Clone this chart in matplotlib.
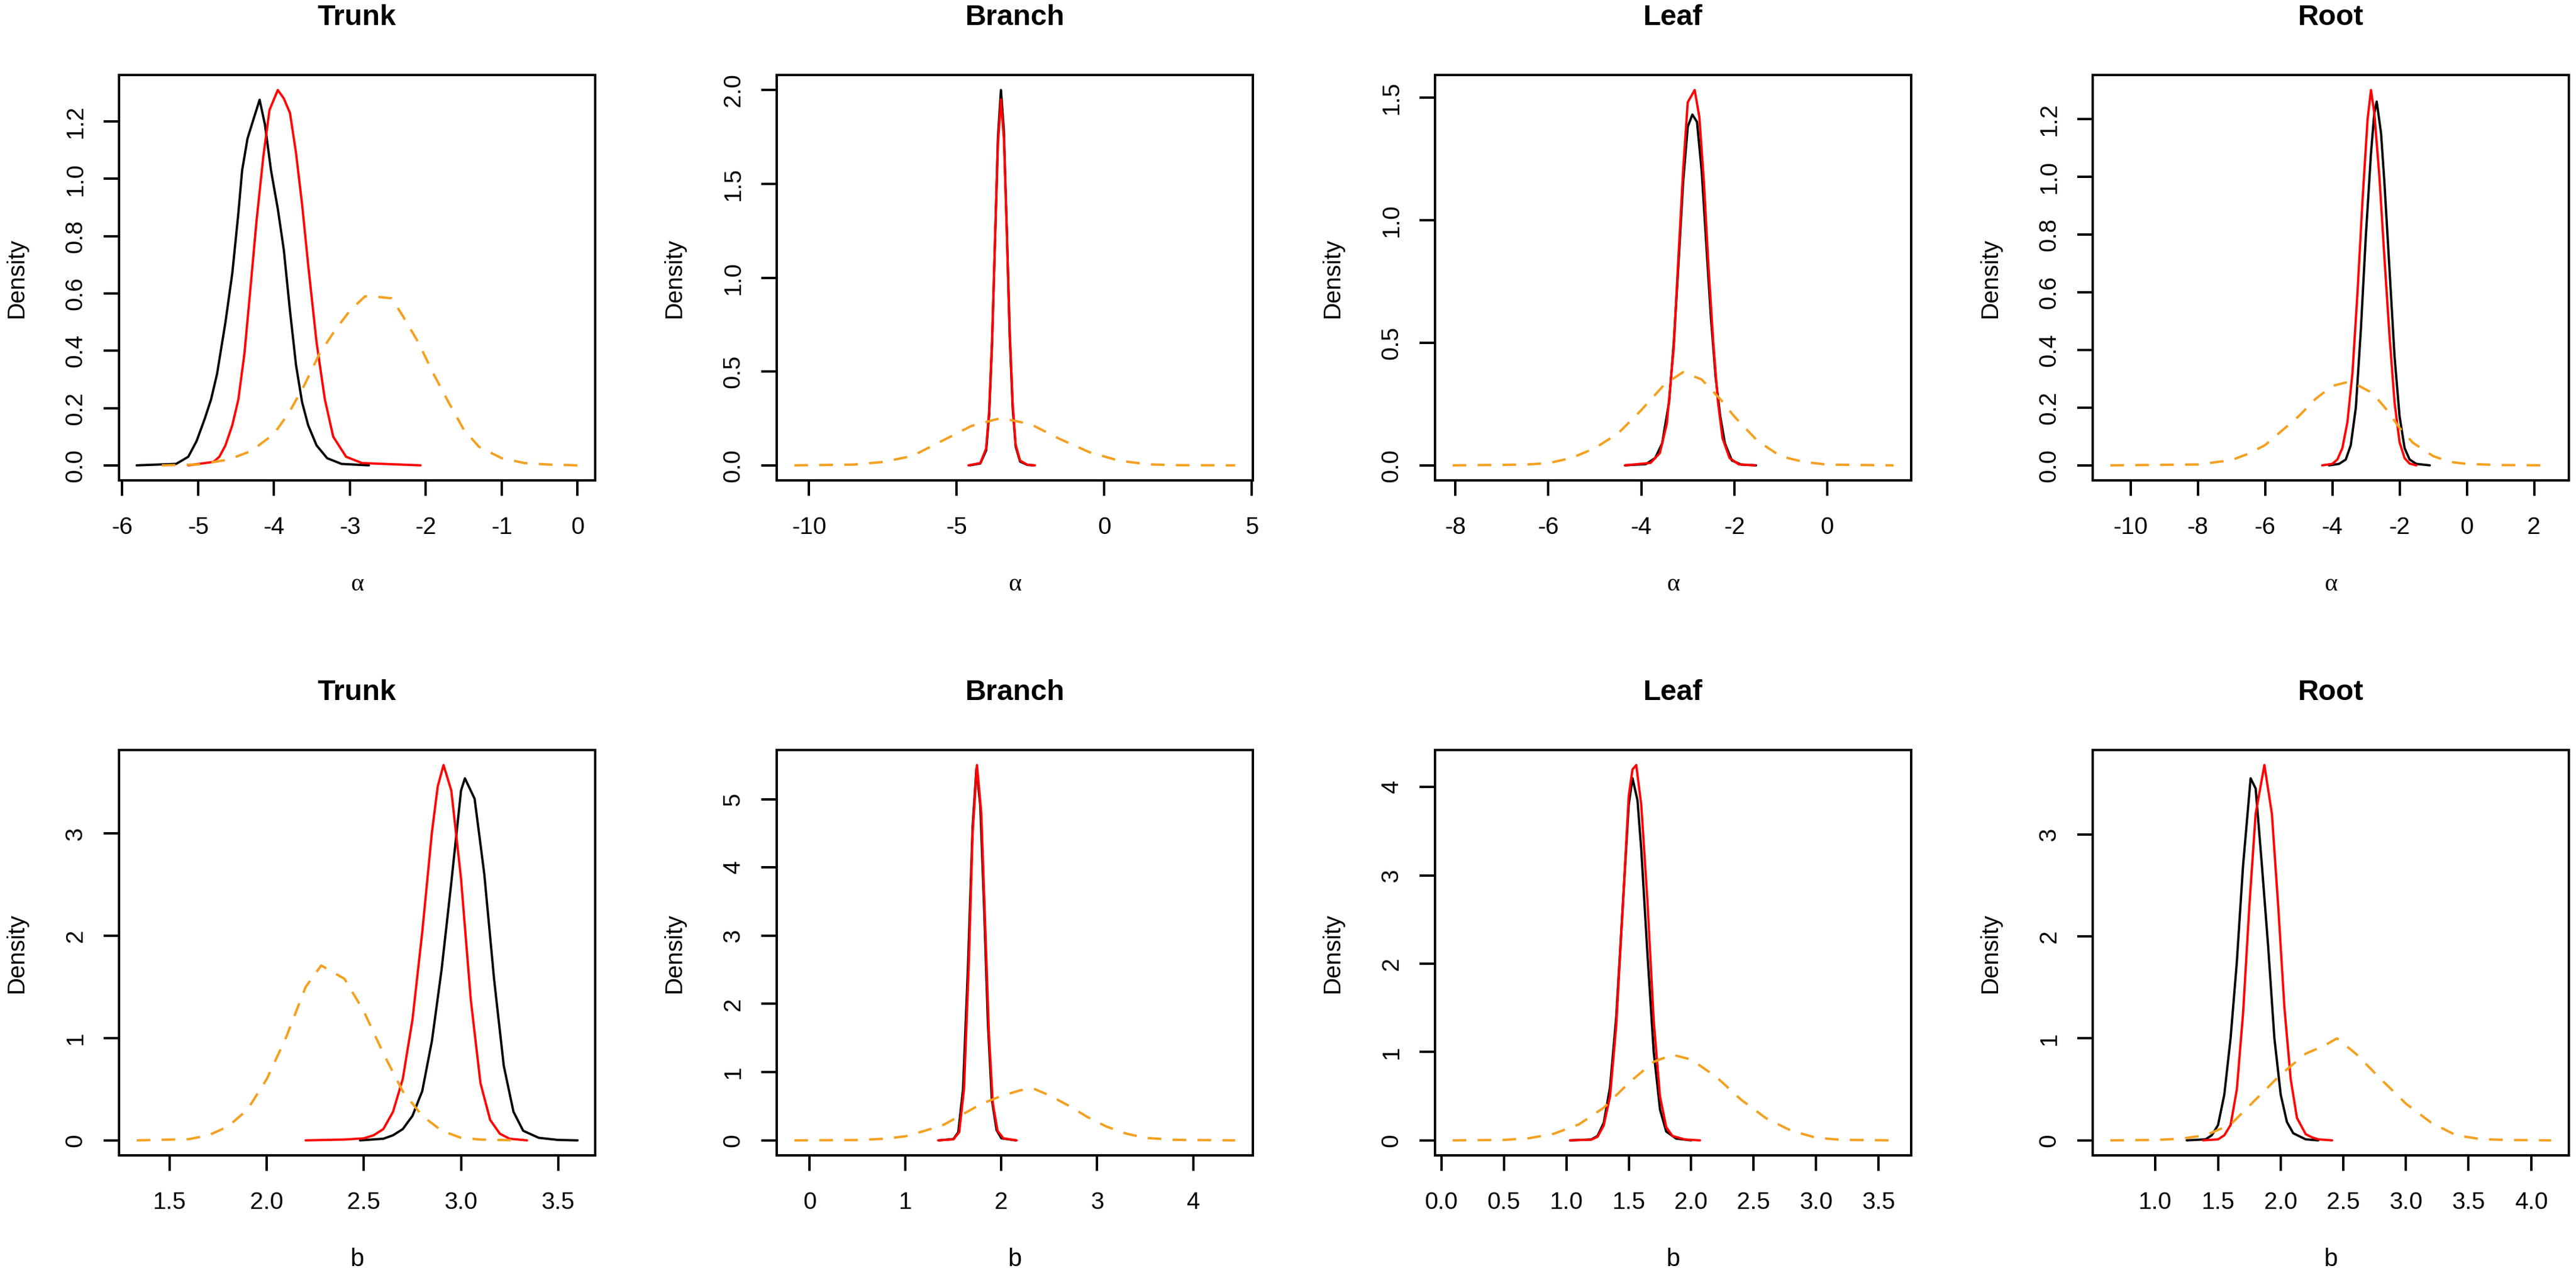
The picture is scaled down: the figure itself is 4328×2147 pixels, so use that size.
import matplotlib
matplotlib.use("Agg")
import matplotlib.pyplot as plt

plt.rcParams['font.family'] = ['Liberation Sans', 'DejaVu Sans']

# ---- data (density curves) ----
# top row: alpha
trunk_a_black_x = [-5.81, -5.29, -5.13, -5.02, -4.91, -4.83, -4.75, -4.64, -4.55, -4.47, -4.42, -4.35, -4.28,
                   -4.19, -4.12, -4.04, -3.95, -3.87, -3.79, -3.71, -3.63, -3.55, -3.44, -3.30, -3.11, -2.75]
trunk_a_black_y = [0.0, 0.005, 0.03, 0.085, 0.165, 0.23, 0.32, 0.50, 0.67, 0.88, 1.03, 1.14, 1.20,
                   1.276, 1.19, 1.03, 0.895, 0.75, 0.54, 0.35, 0.22, 0.14, 0.07, 0.025, 0.005, 0.0]
trunk_a_red_x = [-5.13, -4.80, -4.72, -4.64, -4.55, -4.47, -4.39, -4.31, -4.23, -4.14, -4.06, -3.95, -3.87,
                 -3.79, -3.71, -3.63, -3.55, -3.44, -3.33, -3.22, -3.05, -2.84, -2.07]
trunk_a_red_y = [0.0, 0.012, 0.03, 0.07, 0.14, 0.23, 0.39, 0.62, 0.855, 1.08, 1.24, 1.31, 1.28,
                 1.23, 1.09, 0.91, 0.70, 0.43, 0.23, 0.10, 0.03, 0.008, 0.0]
trunk_a_orange_x = [-5.48, -5.0, -4.6, -4.3, -4.0, -3.8, -3.6, -3.4, -3.2, -3.0, -2.8, -2.6, -2.45, -2.3,
                    -2.1, -1.9, -1.7, -1.5, -1.3, -1.0, -0.7, -0.4, 0.0]
trunk_a_orange_y = [0.0, 0.003, 0.02, 0.05, 0.11, 0.185, 0.28, 0.39, 0.47, 0.54, 0.59, 0.587, 0.583, 0.52,
                    0.43, 0.32, 0.22, 0.125, 0.065, 0.025, 0.008, 0.003, 0.0]

branch_a_black_x = [-4.55, -4.2, -4.0, -3.9, -3.8, -3.7, -3.6, -3.5, -3.4, -3.3, -3.2, -3.1, -3.0, -2.85, -2.6, -2.4]
branch_a_black_y = [0.0, 0.01, 0.08, 0.27, 0.65, 1.2, 1.75, 2.0, 1.78, 1.25, 0.68, 0.3, 0.1, 0.02, 0.002, 0.0]
branch_a_red_x = [-4.6, -4.2, -4.0, -3.9, -3.8, -3.7, -3.6, -3.5, -3.4, -3.3, -3.2, -3.1, -3.0, -2.85, -2.6, -2.35]
branch_a_red_y = [0.0, 0.012, 0.09, 0.29, 0.68, 1.2, 1.72, 1.95, 1.74, 1.24, 0.7, 0.32, 0.11, 0.025, 0.003, 0.0]
branch_a_orange_x = [-10.5, -8.5, -7.5, -6.5, -5.5, -4.5, -3.5, -2.5, -1.5, -0.5, 0.5, 1.5, 2.5, 4.44]
branch_a_orange_y = [0.0, 0.004, 0.018, 0.05, 0.13, 0.21, 0.252, 0.22, 0.14, 0.07, 0.025, 0.005, 0.001, 0.0]

leaf_a_black_x = [-4.35, -3.9, -3.7, -3.55, -3.4, -3.3, -3.2, -3.1, -3.0, -2.9, -2.8, -2.7, -2.6, -2.5,
                  -2.4, -2.3, -2.2, -2.05, -1.85, -1.53]
leaf_a_black_y = [0.0, 0.005, 0.03, 0.09, 0.26, 0.5, 0.82, 1.15, 1.38, 1.43, 1.40, 1.2, 0.9, 0.6,
                  0.36, 0.2, 0.09, 0.02, 0.003, 0.0]
leaf_a_red_x = [-4.35, -3.8, -3.6, -3.45, -3.3, -3.2, -3.1, -3.0, -2.85, -2.75, -2.65, -2.55, -2.45, -2.35,
                -2.25, -2.1, -1.9, -1.55]
leaf_a_red_y = [0.0, 0.01, 0.05, 0.17, 0.48, 0.85, 1.2, 1.48, 1.53, 1.42, 1.15, 0.8, 0.5, 0.26,
                0.11, 0.03, 0.004, 0.0]
leaf_a_orange_x = [-8.06, -6.5, -6.0, -5.5, -5.0, -4.5, -4.0, -3.5, -3.1, -2.7, -2.3, -2.0, -1.5, -1.0,
                   -0.5, 0.0, 1.43]
leaf_a_orange_y = [0.0, 0.003, 0.009, 0.03, 0.07, 0.13, 0.225, 0.33, 0.38, 0.35, 0.27, 0.20, 0.10, 0.037,
                   0.014, 0.003, 0.0]

root_a_black_x = [-4.1, -3.8, -3.6, -3.45, -3.3, -3.15, -3.0, -2.85, -2.75, -2.68, -2.55, -2.45, -2.3,
                  -2.15, -2.0, -1.85, -1.7, -1.5, -1.1]
root_a_black_y = [0.0, 0.005, 0.02, 0.07, 0.2, 0.47, 0.8, 1.08, 1.22, 1.26, 1.15, 0.98, 0.68,
                  0.38, 0.17, 0.06, 0.02, 0.005, 0.0]
root_a_red_x = [-4.3, -4.0, -3.85, -3.7, -3.55, -3.4, -3.25, -3.1, -2.95, -2.85, -2.75, -2.6, -2.45,
                -2.3, -2.15, -2.0, -1.85, -1.7, -1.5]
root_a_red_y = [0.0, 0.005, 0.02, 0.06, 0.15, 0.32, 0.6, 0.92, 1.2, 1.30, 1.22, 1.0, 0.72,
                0.45, 0.22, 0.08, 0.025, 0.006, 0.0]
root_a_orange_x = [-10.6, -8.0, -7.0, -6.5, -6.0, -5.5, -5.0, -4.5, -4.0, -3.6, -3.2, -2.8, -2.4, -2.0,
                   -1.6, -1.0, -0.5, 0.0, 1.0, 2.51]
root_a_orange_y = [0.0, 0.003, 0.018, 0.04, 0.07, 0.12, 0.17, 0.23, 0.275, 0.287, 0.275, 0.25, 0.195, 0.13,
                   0.078, 0.032, 0.012, 0.005, 0.001, 0.0]

# bottom row: b
trunk_b_black_x = [2.48, 2.6, 2.65, 2.7, 2.75, 2.8, 2.85, 2.9, 2.95, 3.0, 3.02, 3.07, 3.12, 3.17, 3.22,
                   3.27, 3.32, 3.4, 3.5, 3.6]
trunk_b_black_y = [0.0, 0.016, 0.05, 0.11, 0.24, 0.48, 0.97, 1.67, 2.52, 3.42, 3.54, 3.34, 2.6, 1.58, 0.73,
                   0.28, 0.094, 0.025, 0.004, 0.0]
trunk_b_red_x = [2.2, 2.4, 2.5, 2.55, 2.6, 2.65, 2.7, 2.75, 2.8, 2.85, 2.88, 2.91, 2.95, 3.0, 3.05, 3.1,
                 3.15, 3.2, 3.25, 3.34]
trunk_b_red_y = [0.0, 0.008, 0.02, 0.05, 0.11, 0.28, 0.6, 1.18, 2.03, 3.01, 3.46, 3.67, 3.42, 2.56, 1.38, 0.56,
                 0.2, 0.065, 0.016, 0.0]
trunk_b_orange_x = [1.33, 1.6, 1.7, 1.8, 1.9, 2.0, 2.1, 2.2, 2.28, 2.4, 2.5, 2.6, 2.7, 2.8, 2.9, 3.0, 3.1, 3.3]
trunk_b_orange_y = [0.0, 0.012, 0.05, 0.135, 0.3, 0.6, 1.01, 1.5, 1.71, 1.58, 1.26, 0.85, 0.48, 0.24, 0.095,
                    0.025, 0.008, 0.0]

branch_b_black_x = [1.35, 1.5, 1.55, 1.6, 1.65, 1.7, 1.74, 1.78, 1.82, 1.86, 1.9, 1.95, 2.0, 2.15]
branch_b_black_y = [0.0, 0.02, 0.12, 0.75, 2.5, 4.6, 5.45, 4.9, 3.4, 1.7, 0.6, 0.15, 0.03, 0.0]
branch_b_red_x = [1.34, 1.5, 1.56, 1.61, 1.66, 1.7, 1.745, 1.79, 1.83, 1.87, 1.91, 1.96, 2.02, 2.16]
branch_b_red_y = [0.0, 0.015, 0.12, 0.75, 2.6, 4.5, 5.5, 4.8, 3.2, 1.55, 0.55, 0.14, 0.03, 0.0]
branch_b_orange_x = [-0.16, 0.5, 0.8, 1.0, 1.2, 1.4, 1.6, 1.8, 2.0, 2.2, 2.35, 2.5, 2.7, 2.9, 3.1, 3.3,
                     3.5, 3.8, 4.44]
branch_b_orange_y = [0.0, 0.005, 0.025, 0.06, 0.14, 0.23, 0.385, 0.54, 0.65, 0.735, 0.75, 0.66, 0.51, 0.34,
                     0.2, 0.1, 0.037, 0.008, 0.0]

leaf_b_black_x = [1.03, 1.2, 1.25, 1.3, 1.35, 1.4, 1.45, 1.5, 1.53, 1.57, 1.6, 1.65, 1.7, 1.75, 1.8, 1.88, 2.0]
leaf_b_black_y = [0.0, 0.01, 0.05, 0.2, 0.6, 1.4, 2.6, 3.8, 4.1, 3.85, 3.3, 2.1, 1.0, 0.35, 0.1, 0.02, 0.0]
leaf_b_red_x = [1.03, 1.2, 1.25, 1.3, 1.35, 1.4, 1.45, 1.5, 1.53, 1.56, 1.6, 1.65, 1.7, 1.75, 1.8, 1.85,
                1.95, 2.07]
leaf_b_red_y = [0.0, 0.008, 0.04, 0.17, 0.5, 1.3, 2.6, 3.9, 4.2, 4.25, 3.8, 2.7, 1.35, 0.5, 0.15, 0.05,
                0.01, 0.0]
leaf_b_orange_x = [0.09, 0.5, 0.7, 0.9, 1.1, 1.3, 1.5, 1.7, 1.85, 2.0, 2.2, 2.4, 2.6, 2.8, 3.0, 3.2, 3.62]
leaf_b_orange_y = [0.0, 0.005, 0.024, 0.075, 0.18, 0.37, 0.65, 0.89, 0.97, 0.915, 0.72, 0.46, 0.25, 0.11,
                   0.03, 0.006, 0.0]

root_b_black_x = [1.25, 1.4, 1.45, 1.5, 1.55, 1.6, 1.65, 1.7, 1.76, 1.8, 1.85, 1.9, 1.95, 2.0, 2.05, 2.1,
                  2.2, 2.3]
root_b_black_y = [0.0, 0.01, 0.05, 0.15, 0.45, 1.0, 1.75, 2.7, 3.55, 3.45, 2.7, 1.9, 1.0, 0.45, 0.18, 0.07,
                  0.01, 0.0]
root_b_red_x = [1.38, 1.5, 1.55, 1.6, 1.65, 1.7, 1.75, 1.8, 1.87, 1.93, 1.98, 2.03, 2.08, 2.13, 2.2, 2.25,
                2.3, 2.41]
root_b_red_y = [0.0, 0.01, 0.05, 0.15, 0.5, 1.25, 2.3, 3.2, 3.68, 3.2, 2.3, 1.3, 0.6, 0.22, 0.06, 0.03,
                0.01, 0.0]
root_b_orange_x = [0.64, 1.0, 1.2, 1.4, 1.6, 1.8, 2.0, 2.2, 2.35, 2.45, 2.6, 2.8, 3.0, 3.2, 3.4, 3.6, 3.8, 4.16]
root_b_orange_y = [0.0, 0.004, 0.016, 0.05, 0.155, 0.4, 0.645, 0.85, 0.93, 1.0, 0.85, 0.6, 0.36, 0.175, 0.05,
                   0.012, 0.004, 0.0]

titles = ['Trunk', 'Branch', 'Leaf', 'Root']

top_xticks = [[-6, -5, -4, -3, -2, -1, 0], [-10, -5, 0, 5], [-8, -6, -4, -2, 0], [-10, -8, -6, -4, -2, 0, 2]]
top_yticks = [[0.0, 0.2, 0.4, 0.6, 0.8, 1.0, 1.2], [0.0, 0.5, 1.0, 1.5, 2.0], [0.0, 0.5, 1.0, 1.5],
              [0.0, 0.2, 0.4, 0.6, 0.8, 1.0, 1.2]]
bot_xticks = [[1.5, 2.0, 2.5, 3.0, 3.5], [0, 1, 2, 3, 4], [0.0, 0.5, 1.0, 1.5, 2.0, 2.5, 3.0, 3.5],
              [1.0, 1.5, 2.0, 2.5, 3.0, 3.5, 4.0]]
bot_yticks = [[0, 1, 2, 3], [0, 1, 2, 3, 4, 5], [0, 1, 2, 3, 4], [0, 1, 2, 3]]

top_curves = [
    (trunk_a_black_x, trunk_a_black_y, trunk_a_red_x, trunk_a_red_y, trunk_a_orange_x, trunk_a_orange_y),
    (branch_a_black_x, branch_a_black_y, branch_a_red_x, branch_a_red_y, branch_a_orange_x, branch_a_orange_y),
    (leaf_a_black_x, leaf_a_black_y, leaf_a_red_x, leaf_a_red_y, leaf_a_orange_x, leaf_a_orange_y),
    (root_a_black_x, root_a_black_y, root_a_red_x, root_a_red_y, root_a_orange_x, root_a_orange_y),
]
bot_curves = [
    (trunk_b_black_x, trunk_b_black_y, trunk_b_red_x, trunk_b_red_y, trunk_b_orange_x, trunk_b_orange_y),
    (branch_b_black_x, branch_b_black_y, branch_b_red_x, branch_b_red_y, branch_b_orange_x, branch_b_orange_y),
    (leaf_b_black_x, leaf_b_black_y, leaf_b_red_x, leaf_b_red_y, leaf_b_orange_x, leaf_b_orange_y),
    (root_b_black_x, root_b_black_y, root_b_red_x, root_b_red_y, root_b_orange_x, root_b_orange_y),
]

# ---- layout (pixel geometry of the reference) ----
W, H = 4328, 2147
fig = plt.figure(figsize=(W / 200, H / 200), dpi=200)

box_left = [200, 1305, 2411, 3516]
box_w = 800
row_top = [126, 1260]
box_h = 681


def fmt(v, decimals):
    return f"{v:.{decimals}f}"


def draw_panel(ax, curves, xticks, yticks, xdec, ydec, title, xlabel, xlabel_font):
    bx, by, rx, ry, ox, oy = curves
    ax.plot(bx, by, color='black', lw=1.4, solid_joinstyle='round', solid_capstyle='round')
    ax.plot(rx, ry, color='#FF0000', lw=1.4, solid_joinstyle='round', solid_capstyle='round')
    ax.plot(ox, oy, color='#F4A020', lw=1.45, linestyle=(0, (5.7, 4.7)))
    ax.margins(x=0.04, y=0.04)

    ax.set_xticks(xticks)
    ax.set_xticklabels([fmt(v, xdec) for v in xticks])
    ax.set_yticks(yticks)
    ax.set_yticklabels([fmt(v, ydec) for v in yticks], rotation=90, va='center')
    ax.tick_params(direction='out', length=9.5, width=1.45, labelsize=14.5, pad=10)
    ax.tick_params(axis='x', pad=12)
    for s in ax.spines.values():
        s.set_linewidth(1.45)

    ax.text(0.5, 1 + 97 / box_h, title, transform=ax.transAxes, ha='center', va='center',
            fontsize=17.5, fontweight='bold')
    ax.text(0.5, -175 / box_h, xlabel, transform=ax.transAxes, ha='center', va='center',
            fontsize=15, family=xlabel_font)
    ax.text(-172 / box_w, 0.5, 'Density', transform=ax.transAxes, ha='center', va='center',
            rotation=90, fontsize=14.5)


for row in range(2):
    for col in range(4):
        left = box_left[col] / W
        bottom = 1 - (row_top[row] + box_h) / H
        ax = fig.add_axes([left, bottom, box_w / W, box_h / H])
        if row == 0:
            draw_panel(ax, top_curves[col], top_xticks[col], top_yticks[col], 0, 1,
                       titles[col], 'α', ['Liberation Serif', 'DejaVu Serif'])
        else:
            xdec = 0 if col == 1 else 1
            draw_panel(ax, bot_curves[col], bot_xticks[col], bot_yticks[col], xdec, 0,
                       titles[col], 'b', ['Liberation Sans', 'DejaVu Sans'])

fig.savefig('out.png', dpi=200, facecolor='white')
